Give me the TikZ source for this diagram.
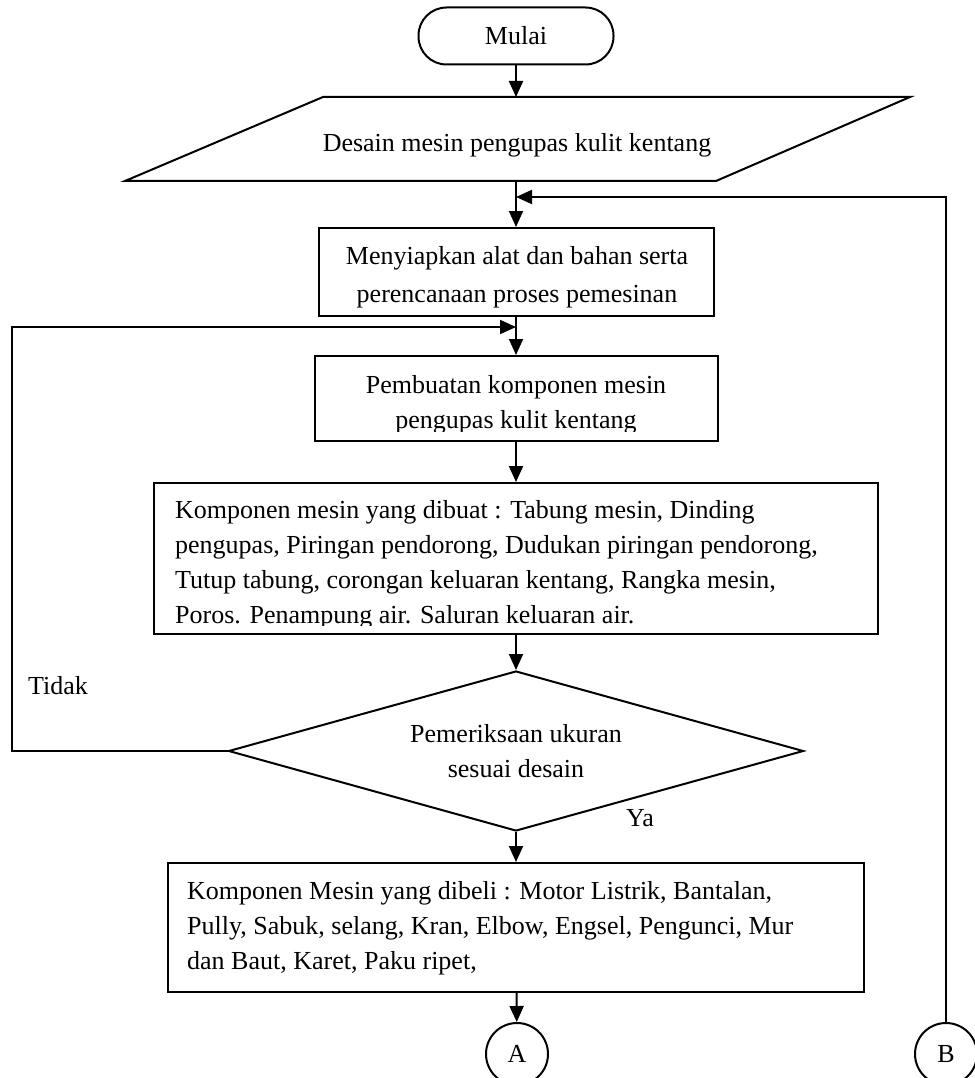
\documentclass[tikz,border=0pt]{standalone}
\usepackage{fontspec}
\setmainfont{Liberation Serif}
\usetikzlibrary{arrows.meta,shapes.geometric}

\tikzset{
  garis/.style={line width=2pt},
  panah/.style={garis, -{Triangle[length=16pt,width=14pt]}},
  teks/.style={font=\fontsize{26}{35}\selectfont, inner sep=0pt},
  kotak/.style={draw, garis}
}

\begin{document}
\begin{tikzpicture}[x=1pt, y=-1pt]
        \useasboundingbox (0,0) rectangle (974,1078);

        % Mulai
        \node[kotak, teks, rounded corners=28pt, minimum width=195pt, minimum height=57pt] (mulai) at (516,36) {Mulai};

        % Desain (jajaran genjang)
        \draw[garis] (323,97) -- (910,97) -- (716,181) -- (125,181) -- cycle;
        \node[teks, anchor=base] (desain) at (517,152) {Desain mesin pengupas kulit kentang};
        \coordinate (desainAtas) at (516,97);
        \coordinate (desainBawah) at (516,181);
        \coordinate (gabungB) at (516,197);

        % Persiapan
        \node[kotak, minimum width=395pt, minimum height=88pt] (siapkan) at (516,272) {};
        \node[teks, font=\fontsize{26}{38}\selectfont, align=center, anchor=north] (siapkanTeks) at (517,246) {Menyiapkan alat dan bahan serta\\perencanaan proses pemesinan};
        \coordinate (gabungTidak) at (516,327);
        \coordinate (sudutTidak) at (12,327);

        % Pembuatan
        \node[kotak, minimum width=403pt, minimum height=85pt] (buat) at (516,398.5) {};
        \begin{scope}
            \clip (314,356) rectangle (717,431);
            \node[teks, align=center, anchor=north] (buatTeks) at (516,375) {Pembuatan komponen mesin\\pengupas kulit kentang};
        \end{scope}

        % Komponen yang dibuat
        \node[kotak, minimum width=724pt, minimum height=151pt] (komponen) at (516,558.5) {};
        \begin{scope}
            \clip (153,483) rectangle (877,625);
            \node[teks, align=left, anchor=north west] (komponenTeks) at (175,500) {Komponen mesin yang dibuat : Tabung mesin, Dinding\\pengupas, Piringan pendorong, Dudukan piringan pendorong,\\Tutup tabung, corongan keluaran kentang, Rangka mesin,\\Poros. Penampung air. Saluran keluaran air.};
        \end{scope}

        % Pemeriksaan
        \node[kotak, teks, diamond, aspect=3.6, align=center, minimum width=575pt, minimum height=160pt] (periksa) at (516,751) {Pemeriksaan ukuran\\sesuai desain};
        \node[teks, anchor=base west] (tidak) at (28,694) {Tidak};
        \node[teks, anchor=base west] (ya) at (626,826) {Ya};

        % Komponen yang dibeli
        \node[kotak, minimum width=696pt, minimum height=129pt] (beli) at (516,927.5) {};
        \node[teks, align=left, anchor=north west] (beliTeks) at (187,881) {Komponen Mesin yang dibeli : Motor Listrik, Bantalan,\\Pully, Sabuk, selang, Kran, Elbow, Engsel, Pengunci, Mur\\dan Baut, Karet, Paku ripet,};

        % Konektor
        \node[kotak, teks, circle, minimum size=62pt] (konA) at (517,1054) {A};
        \node[kotak, teks, circle, minimum size=62pt] (konB) at (946,1054) {B};

        % Alur
        \draw[panah] (mulai) -- (desainAtas);
        \draw[panah] (desainBawah) -- (siapkan);
        \draw[panah] (konB) |- (gabungB);
        \draw[panah] (siapkan) -- (buat);
        \draw[panah] (periksa.west) -| (sudutTidak) -- (gabungTidak);
        \draw[panah] (buat) -- (komponen);
        \draw[panah] (komponen) -- (periksa);
        \draw[panah] (periksa) -- (beli);
        \draw[panah] (beli) -- (konA);

    \end{tikzpicture}
\end{document}
